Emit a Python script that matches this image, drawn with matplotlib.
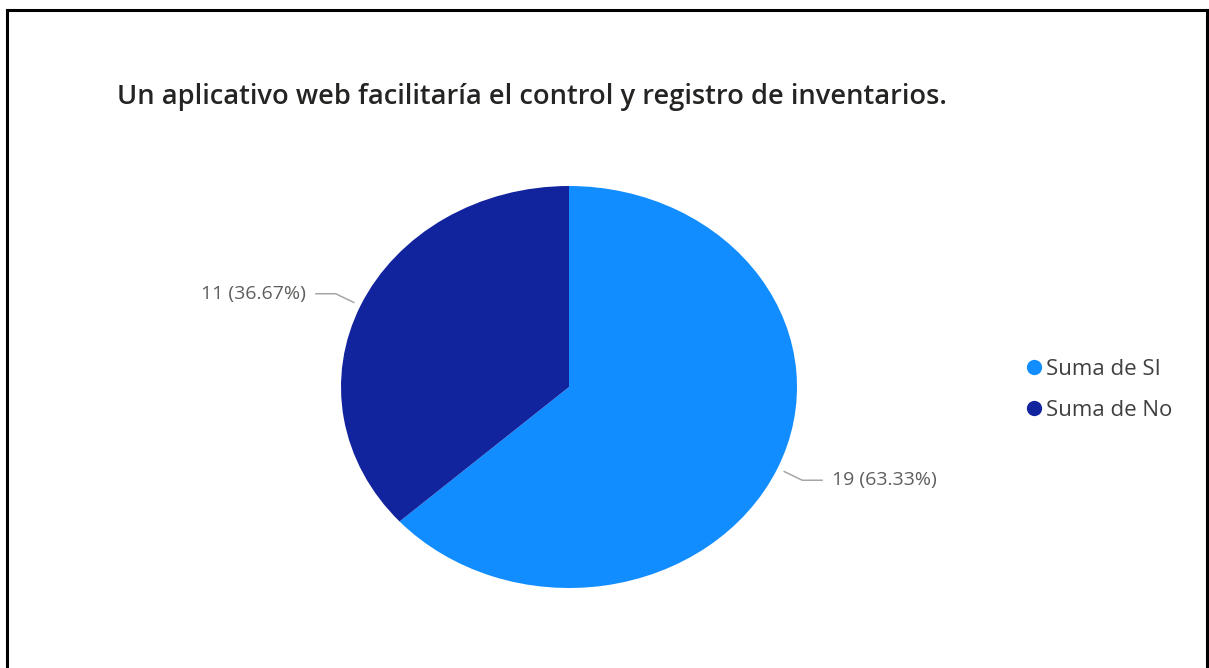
import matplotlib
matplotlib.use("Agg")
import matplotlib.pyplot as plt
from matplotlib.lines import Line2D
import numpy as np

# Survey answers
categories = ["Suma de SI", "Suma de No"]
counts = [19, 11]
colors = ["#118DFF", "#12239E"]
title = "Un aplicativo web facilitaría el control y registro de inventarios."

W, H = 1209, 668
fig = plt.figure(figsize=(W / 100, H / 100), dpi=100)
fig.patch.set_facecolor("white")

# Axes spanning the bounding box of the (elliptical) pie
cx, cy, rx, ry = 569, 387, 228, 201
ax = fig.add_axes([(cx - rx) / W, 1 - (cy + ry) / H, 2 * rx / W, 2 * ry / H])
wedges, _ = ax.pie(counts, colors=colors, startangle=90, counterclock=False,
                   radius=1.0, wedgeprops=dict(linewidth=0))
ax.set_aspect("auto")
ax.set_xlim(-1, 1)
ax.set_ylim(-1, 1)
ax.axis("off")

total = sum(counts)
label_font = "Open Sans"
lab_color = "#605E5C"
line_color = "#A6A6A6"

# Data labels with leader lines
ang_start = 90.0
for i, v in enumerate(counts):
    frac = v / total
    mid = ang_start - 360 * frac / 2
    ang_start -= 360 * frac
    t = np.deg2rad(mid)
    x0, y0 = 1.03 * np.cos(t), 1.03 * np.sin(t)
    x1 = 1.12 * np.cos(t)
    y1 = y0 - 0.045 if y0 < 0 else y0 + 0.045
    side = 1 if x0 > 0 else -1
    x2 = x1 + side * 0.09
    ax.plot([x0, x1, x2], [y0, y1, y1], color=line_color, lw=1.1,
            clip_on=False, solid_capstyle="butt")
    txt = f"{v} ({100 * frac:.2f}%)"
    ax.text(x2 + side * 0.04, y1, txt, ha="left" if side > 0 else "right",
            va="center", color=lab_color, fontsize=14, family=label_font)

# Title
tt = fig.text(117 / W, 1 - 97 / H, title, ha="left", va="center",
              fontsize=17, family="Open Sans", fontweight="semibold",
              color="#252423")
fig.canvas.draw()
bb = tt.get_window_extent()
tt.set_fontsize(17 * 828 / bb.width)

# Legend
handles = [Line2D([], [], marker="o", linestyle="none", markersize=11,
                  markerfacecolor=c, markeredgewidth=0) for c in colors]
leg = fig.legend(handles, categories, loc="center left",
                 bbox_to_anchor=(1007 / W, 1 - 390 / H), frameon=False,
                 handlelength=0.6, handletextpad=0.26, labelspacing=0.9,
                 prop=dict(family=label_font, size=16))
for t in leg.get_texts():
    t.set_color("#404040")

# Frame around the visual
bc = "#000000"
fig.add_artist(Line2D([7 / W, 1207 / W], [1 - 10 / H, 1 - 10 / H],
                      transform=fig.transFigure, color=bc, lw=2.2))
fig.add_artist(Line2D([7 / W, 7 / W], [1 - 10 / H, 0],
                      transform=fig.transFigure, color=bc, lw=2.2))
fig.add_artist(Line2D([1207 / W, 1207 / W], [1 - 10 / H, 0],
                      transform=fig.transFigure, color=bc, lw=2.2))

fig.savefig("out.png", dpi=100, facecolor="white")
